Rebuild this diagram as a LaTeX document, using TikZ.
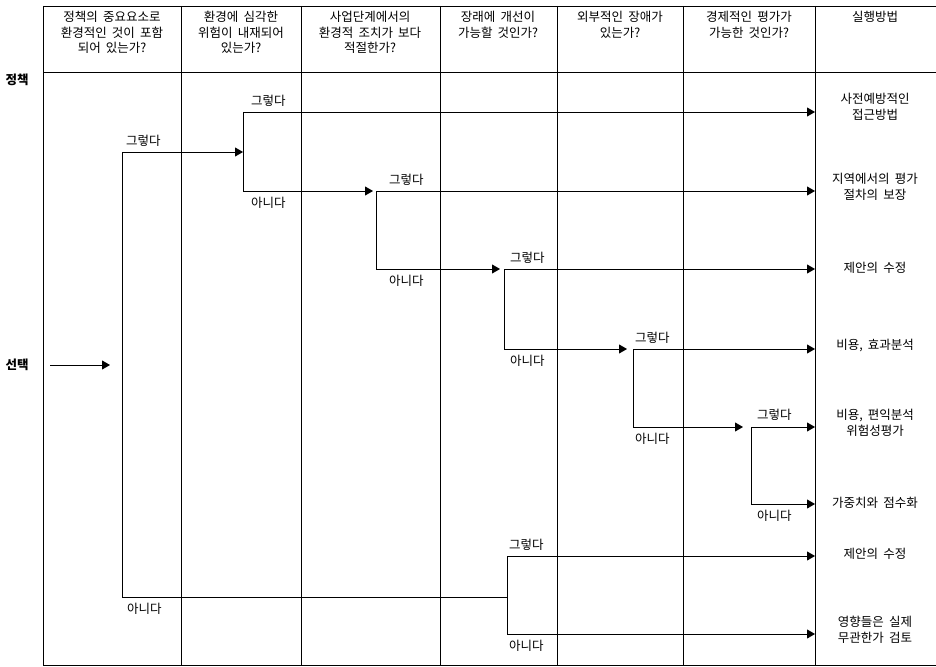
\documentclass[tikz,border=0pt]{standalone}
\usepackage{fontspec}
\setmainfont[WordSpace=1.8]{Noto Sans CJK KR}
\usetikzlibrary{arrows.meta,positioning}

\begin{document}
\begin{tikzpicture}[x=1pt,y=-1pt]
  \tikzstyle{rule}=[line width=0.8pt]
  \tikzstyle{flow}=[line width=0.8pt]
  \tikzstyle{go}=[flow,-{Triangle[length=8pt,width=9pt]}]
  \tikzstyle{head}=[align=center,anchor=north,inner sep=0pt,font=\fontsize{12.5}{15.5}\selectfont]
  \tikzstyle{side}=[inner sep=0pt,font=\fontsize{12.5}{15}\bfseries]
  \tikzstyle{act}=[align=center,inner sep=0pt,font=\fontsize{12.5}{16.5}\selectfont]
  \tikzstyle{yes}=[anchor=south west,inner sep=0pt,font=\fontsize{12.5}{14}\selectfont]
  \tikzstyle{no}=[anchor=north west,inner sep=0pt,font=\fontsize{12.5}{14}\selectfont]

  \useasboundingbox (0,0) rectangle (936,666);

  \draw[rule] (43,6) -- (936,6);
  \draw[rule] (43,72) -- (936,72);
  \draw[rule] (43,665) -- (936,665);
  \foreach \x in {43,181,301,440,557,683,815}
    \draw[rule] (\x,6) -- (\x,665);

  \node[head] (h1) at (112,11) {정책의 중요요소로\\환경적인 것이 포함\\되어 있는가?};
  \node[head] (h2) at (241,11) {환경에 심각한\\위험이 내재되어\\있는가?};
  \node[head] (h3) at (370,11) {사업단계에서의\\환경적 조치가 보다\\적절한가?};
  \node[head] (h4) at (498,11) {장래에 개선이\\가능할 것인가?};
  \node[head] (h5) at (620,11) {외부적인 장애가\\있는가?};
  \node[head] (h6) at (749,11) {경제적인 평가가\\가능한 것인가?};
  \node[head] (h7) at (875,11) {실행방법};

  \node[side] (pol) at (17,80) {정책};
  \node[side] (sel) at (17,365) {선택};

  \node[act] (r1) at (875,107) {사전예방적인\\접근방법};
  \node[act] (r2) at (875,187) {지역에서의 평가\\절차의 보장};
  \node[act] (r3) at (875,268) {제안의 수정};
  \node[act] (r4) at (875,346) {비용, 효과분석};
  \node[act] (r5) at (875,423) {비용, 편익분석\\위험성평가};
  \node[act] (r6) at (875,503) {가중치와 점수화};
  \node[act] (r7) at (875,554) {제안의 수정};
  \node[act] (r8) at (875,630) {영향들은 실제\\무관한가 검토};

  \coordinate (s0) at (50,365);
  \coordinate (s1) at (110,365);
  \coordinate (q1y) at (122,152);
  \coordinate (q1n) at (122,597);
  \coordinate (q2) at (243,152);
  \coordinate (q2y) at (243,112);
  \coordinate (q2n) at (243,191);
  \coordinate (q3) at (373,191);
  \coordinate (q3y) at (376,191);
  \coordinate (q3n) at (376,269);
  \coordinate (q4) at (500,269);
  \coordinate (q4y) at (504,269);
  \coordinate (q4n) at (504,349);
  \coordinate (q5) at (627,349);
  \coordinate (q5y) at (633,349);
  \coordinate (q5n) at (633,427);
  \coordinate (q6) at (743,427);
  \coordinate (q6y) at (751,427);
  \coordinate (q6n) at (751,504);
  \coordinate (q7y) at (507,556);
  \coordinate (q7n) at (507,634);

  \foreach \t/\y in {1/112,2/191,3/269,4/349,5/427,6/504,7/556,8/634}
    \coordinate (t\t) at (815,\y);

  \draw[go] (s0) -- (s1);
  \draw[flow] (q1y) -- (q1n);
  \draw[go] (q1y) -- (q2);
  \draw[flow] (q1n) -- (q1n -| q7y);
  \draw[flow] (q2y) -- (q2n);
  \draw[go] (q2y) -- (t1);
  \draw[go] (q2n) -- (q3);
  \draw[flow] (q3y) -- (q3n);
  \draw[go] (q3y) -- (t2);
  \draw[go] (q3n) -- (q4);
  \draw[flow] (q4y) -- (q4n);
  \draw[go] (q4y) -- (t3);
  \draw[go] (q4n) -- (q5);
  \draw[flow] (q5y) -- (q5n);
  \draw[go] (q5y) -- (t4);
  \draw[go] (q5n) -- (q6);
  \draw[flow] (q6y) -- (q6n);
  \draw[go] (q6y) -- (t5);
  \draw[go] (q6n) -- (t6);
  \draw[flow] (q7y) -- (q7n);
  \draw[go] (q7y) -- (t7);
  \draw[go] (q7n) -- (t8);

  \node[yes] (y1) at (126,147) {그렇다};
  \node[no] (n1) at (127,603) {아니다};
  \node[yes] (y2) at (251,107) {그렇다};
  \node[no] (n2) at (251,197) {아니다};
  \node[yes] (y3) at (389,186) {그렇다};
  \node[no] (n3) at (389,275) {아니다};
  \node[yes] (y4) at (510,264) {그렇다};
  \node[no] (n4) at (510,355) {아니다};
  \node[yes] (y5) at (635,344) {그렇다};
  \node[no] (n5) at (635,433) {아니다};
  \node[yes] (y6) at (757,421) {그렇다};
  \node[no] (n6) at (757,510) {아니다};
  \node[yes] (y7) at (509,551) {그렇다};
  \node[no] (n7) at (509,640) {아니다};
\end{tikzpicture}
\end{document}
